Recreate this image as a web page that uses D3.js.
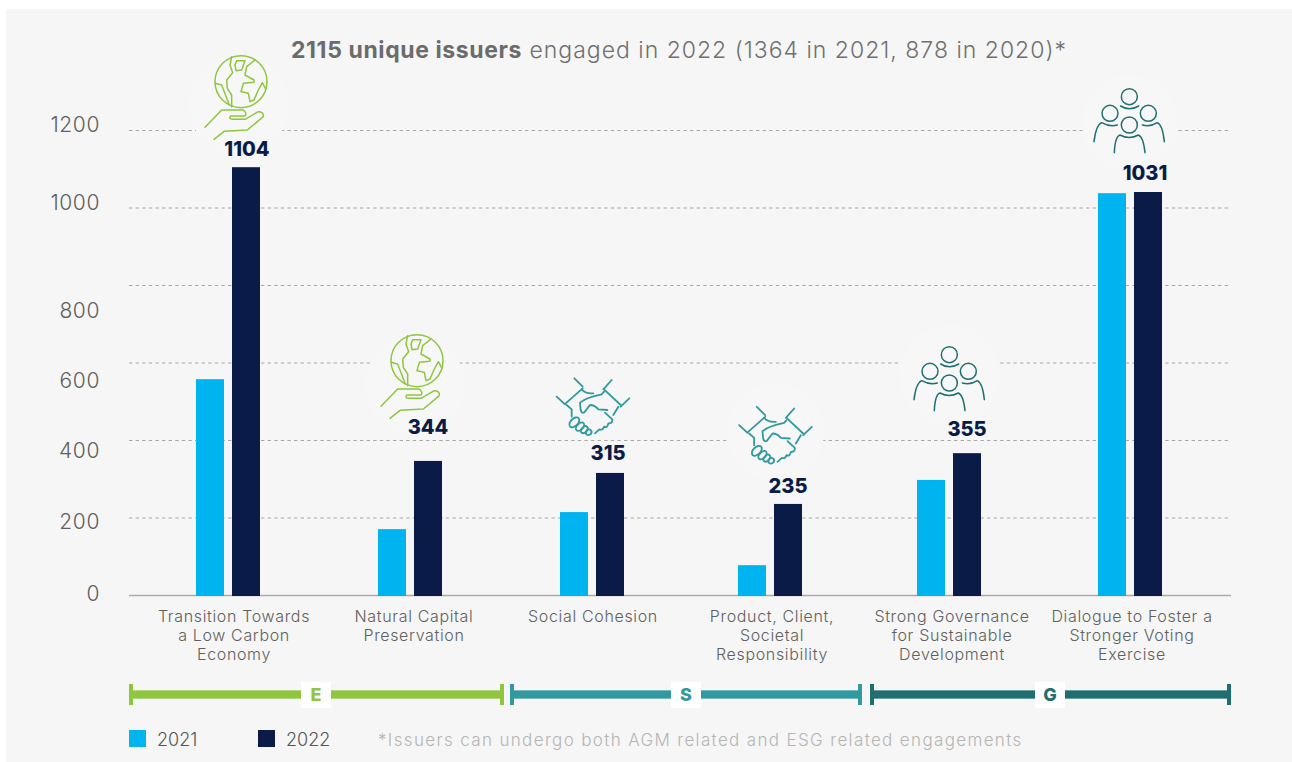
<!DOCTYPE html>
<html><head><meta charset="utf-8">
<script src="https://cdn.jsdelivr.net/npm/d3@7"></script>
<style>
html,body{margin:0;padding:0;background:#fff;overflow:hidden}
svg{display:block}
text{font-family:"Inter","Lato","Noto Sans",sans-serif}
</style></head><body>
<div id="chart"></div>
<script>
const categories = [
  ["Transition Towards","a Low Carbon","Economy"],
  ["Natural Capital","Preservation"],
  ["Social Cohesion"],
  ["Product, Client,","Societal","Responsibility"],
  ["Strong Governance","for Sustainable","Development"],
  ["Dialogue to Foster a","Stronger Voting","Exercise"]
];
const values2021 = [557, 170, 214, 77, 297, 1037];
const values2022 = [1104, 346, 315, 235, 366, 1040];
const printedLabels = ["1104","344","315","235","355","1031"];
const yTicks = [0,200,400,600,800,1000,1200];
const pillars = ["E","S","G"];
const seriesNames = ["2021","2022"];

// ---- layout and style, kept apart from the data ----
const W=1292,H=762;
const C21="#00b5ef",C22="#0a1b47",CE="#8fc63f",CS="#319a9f",CG="#1f6f70";
const idx=d3.range(categories.length);
const x21=d3.scaleOrdinal(idx,[196,378,560,738,917,1098]);
const x22=d3.scaleOrdinal(idx,[232,414,596,774,953,1134]);
const xLabel=d3.scaleOrdinal(idx,[234,414,593,772,952,1132]);
const xValue=d3.scaleOrdinal(idx,[247,428,608,788,967,1145]);
const valueGap=[11,27,13,11,17,12];
const barW=28;
const y=d3.scaleLinear().domain([0,1200]).range([595,130]);
const tickShift={0:5,200:11,400:17,600:25,800:32,1000:2,1200:1};

const svg=d3.select("#chart").append("svg").attr("width",W).attr("height",H);
svg.append("rect").attr("x",6).attr("y",9).attr("width",W-6).attr("height",H-9).attr("fill","#f6f6f6");

// gridlines + axis labels
const axis=svg.append("g").attr("transform","translate(129,0)")
  .call(d3.axisLeft(y).tickValues(yTicks).tickSize(-1102).tickPadding(29).tickFormat(d3.format("d")));
axis.select(".domain").remove();
axis.selectAll(".tick line")
  .attr("stroke",d=>d===0?"#aaaaaa":"#a8a8a8")
  .attr("stroke-width",d=>d===0?1.6:1)
  .attr("stroke-dasharray",d=>d===0?null:"3.4 3.2");
axis.selectAll(".tick text")
  .attr("font-size",21).attr("font-weight",300).attr("fill","#5f5f5f")
  .attr("letter-spacing",0.6)
  .attr("dy",d=>tickShift[d]);

// halos
const halos=[[239,105,50],[415,385,50],[775,432,49],[949,375,50],[1130,123,48]];
svg.append("g").selectAll("circle").data(halos).join("circle")
  .attr("cx",d=>d[0]).attr("cy",d=>d[1]).attr("r",d=>d[2]).attr("fill","#f7f7f7");

// bars
svg.append("g").selectAll("rect").data(idx).join("rect")
  .attr("x",i=>x21(i)).attr("width",barW).attr("fill",C21)
  .attr("y",i=>y(values2021[i])).attr("height",i=>y(0)-y(values2021[i])+1);
svg.append("g").selectAll("rect").data(idx).join("rect")
  .attr("x",i=>x22(i)).attr("width",barW).attr("fill",C22)
  .attr("y",i=>y(values2022[i])).attr("height",i=>y(0)-y(values2022[i])+1);

// printed values
svg.append("g").selectAll("text").data(idx).join("text")
  .attr("x",i=>xValue(i)).attr("y",i=>y(values2022[i])-valueGap[i])
  .attr("text-anchor","middle").attr("font-size",20).attr("font-weight",800).attr("fill",C22)
  .text(i=>printedLabels[i]);

// category labels
const cat=svg.append("g").selectAll("text").data(idx).join("text")
  .attr("text-anchor","middle").attr("font-size",16).attr("font-weight",300)
  .attr("fill","#606060").attr("letter-spacing",0.65);
cat.each(function(i){
  d3.select(this).selectAll("tspan").data(categories[i]).join("tspan")
    .attr("x",xLabel(i)).attr("y",(d,k)=>622+k*19).text(d=>d);
});

// title
const t=svg.append("text").attr("x",679).attr("y",58).attr("text-anchor","middle")
  .attr("font-size",23).attr("fill","#6b6b6b");
t.append("tspan").attr("font-weight",700).attr("letter-spacing",0.6).text("2115 unique issuers");
t.append("tspan").attr("font-weight",300).attr("fill","#707070").attr("letter-spacing",1).text(" engaged in 2022 (1364 in 2021, 878 in 2020)*");

// icons (drawn in a local 3x grid)
const icon=(g,dx,dy,col)=>svg.append("g").attr("transform",`translate(${dx},${dy}) scale(${1/3})`)
  .attr("fill","none").attr("stroke",col).attr("stroke-width",g.sw||4).attr("stroke-linejoin","round").attr("stroke-linecap","round")
  .call(s=>{
    (g.circles||[]).forEach(c=>s.append("circle").attr("cx",c[0]).attr("cy",c[1]).attr("r",c[2]));
    (g.ell||[]).forEach(c=>s.append("ellipse").attr("rx",c[2]).attr("ry",c[3]).attr("transform",`translate(${c[0]},${c[1]}) rotate(45)`));
    (g.paths||[]).forEach(p=>s.append("path").attr("d",p));
  });
const globe={sw:4.5,circles:[[333,155,78]],paths:[
 "M225 292L275 240L340 240Q352 250 345 258L302 258Q295 268 310 268L345 268L385 245Q402 245 400 260L352 300L282 304L252 328",
 "M305 80L300 105L308 128L290 150L292 175L305 195L305 230",
 "M320 92L345 92L335 120L318 122L315 105Z",
 "M375 90L350 110L345 135L372 150L372 157L340 160L333 185L355 190L360 215L372 210L385 180L397 158L408 178",
 "M255 160L275 165L298 225"]};
const hand={sw:5.5,ell:[[133,187,11,18],[150,200,9,15],[163,209,8,12],[176,217,8,9]],paths:[
 "M133 55L158 80M80 110L105 133M158 85L107 130",
 "M245 60L220 88M298 115L272 140M222 88L272 135",
 "M155 88Q165 102 190 100",
 "M222 95L215 103C190 108 165 115 150 128L152 150Q155 162 163 157L180 135Q195 135 205 148L232 150",
 "M110 135L125 148L125 170","M265 140L250 165",
 "M225 158L247 178Q248 192 235 190Q232 205 222 200Q218 212 208 208L195 220"]};
const people={sw:4.5,circles:[[208,80,24],[150,130,24],[265,130,24],[208,165,24]],paths:[
 "M182 108Q208 125 236 108",
 "M102 215Q108 165 125 158Q150 172 172 165",
 "M247 165Q270 172 292 158Q308 165 313 215",
 "M163 248Q165 200 180 195Q208 210 235 195Q250 200 255 248"]};
icon(globe,130,30,CE);
icon(globe,306,309,CE);
icon(hand,530,360,CS);
icon(hand,712.5,388.5,CS);
icon(people,1060,70,CG);
icon(people,880,328,CG);

// pillar brackets
const pillarX=[[129,504],[510,862],[870,1231]];
const pillarCol=[CE,CS,CG];
const pillarC=[316,686,1050];
const b=svg.append("g").selectAll("g").data(pillars).join("g");
b.each(function(p,i){
  const s=d3.select(this),[a,e]=pillarX[i],c=pillarCol[i];
  s.append("rect").attr("x",a).attr("y",690).attr("width",e-a).attr("height",9).attr("fill",c).attr("opacity",.65);
  s.append("rect").attr("x",a).attr("y",691).attr("width",e-a).attr("height",7).attr("fill",c);
  s.append("rect").attr("x",a).attr("y",684).attr("width",4).attr("height",21).attr("fill",c);
  s.append("rect").attr("x",e-4).attr("y",684).attr("width",4).attr("height",21).attr("fill",c);
  s.append("rect").attr("x",pillarC[i]-15).attr("y",682).attr("width",30).attr("height",26).attr("fill","#fff");
  s.append("text").attr("x",pillarC[i]).attr("y",701).attr("text-anchor","middle")
    .attr("font-size",18).attr("font-weight",800).attr("fill",c).text(p);
});

// legend
const legX=[129,258],legT=[157,286],legC=[C21,C22];
const lg=svg.append("g").selectAll("g").data(seriesNames).join("g");
lg.append("rect").attr("x",(d,i)=>legX[i]).attr("y",730).attr("width",17).attr("height",17).attr("fill",(d,i)=>legC[i]);
lg.append("text").attr("x",(d,i)=>legT[i]).attr("y",746).attr("font-size",18).attr("font-weight",300).attr("fill","#555").text(d=>d);

svg.append("text").attr("x",378).attr("y",746).attr("font-size",17).attr("font-weight",300)
  .attr("fill","#b5b5b5").attr("letter-spacing",1.35)
  .text("*Issuers can undergo both AGM related and ESG related engagements");
</script>
</body></html>
